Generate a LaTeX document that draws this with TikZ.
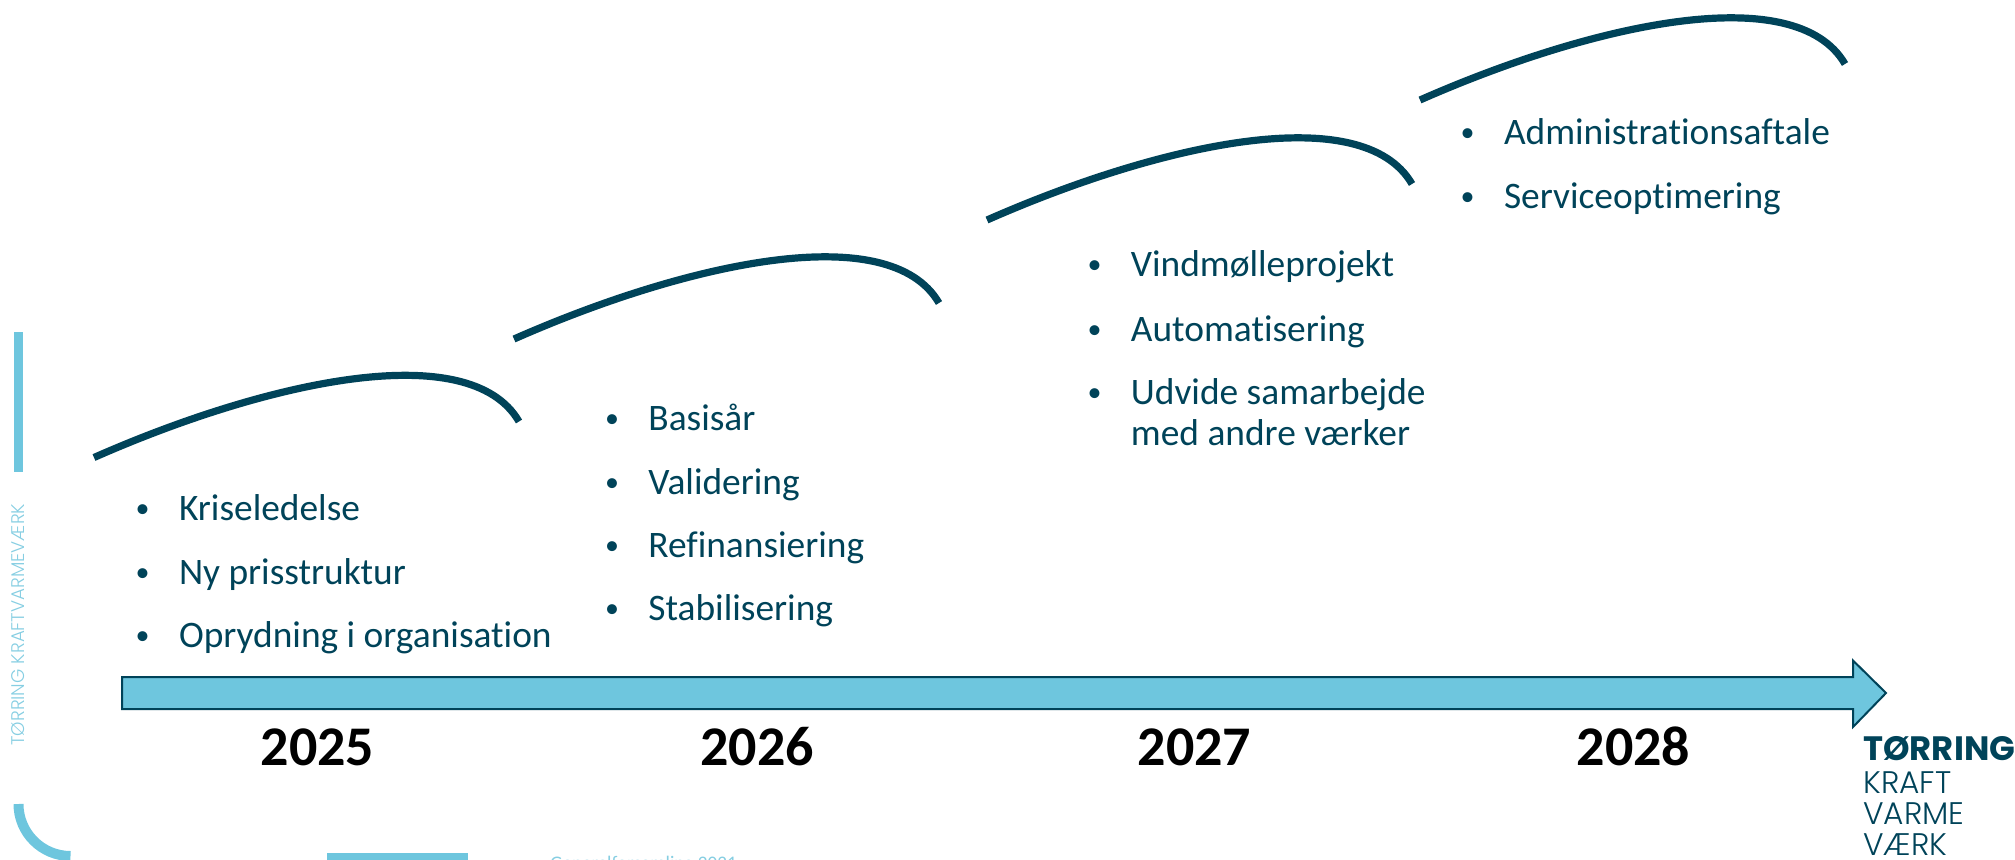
\documentclass[tikz,border=0pt]{standalone}
\usepackage{fontspec}
\setmainfont[Ligatures=NoCommon]{Carlito}
\newfontfamily\logofont{Poppins}
\newfontfamily\logolight{Poppins Light}
\usetikzlibrary{calc}
\definecolor{deep}{HTML}{004359}
\definecolor{sky}{HTML}{6EC6DE}
\definecolor{skytext}{HTML}{86CEE2}
\tikzset{
  x=0.5pt,y=-0.5pt,
  item/.style={anchor=base west,inner sep=0,text=deep,font=\fontsize{18.7}{20.5}\selectfont,align=left},
  dot/.style={anchor=base,inner sep=0,text=deep,font=\fontsize{14}{20}\selectfont},
  year/.style={anchor=base,inner sep=0,text=black,font=\fontsize{28}{30}\selectfont\bfseries},
  arc line/.style={draw=deep,line width=3.6pt},
  logo bold/.style={anchor=base west,inner sep=0,text=deep,font=\logofont\fontsize{16.9}{18}\selectfont\bfseries},
  logo thin/.style={anchor=base west,inner sep=0,text=deep,font=\logolight\fontsize{15.6}{18}\selectfont},
}
\newcommand{\bump}[1]{%
  \draw[arc line] (#1) .. controls ($(#1)+(170,-75)$) and ($(#1)+(375,-122)$) .. ($(#1)+(425,-36)$);}
\newcommand{\entry}[4]{%
  \node[dot] (d#1) at (#2-36,#3-3) {•};
  \node[item] (t#1) at (#2,#3) {#4};}
\begin{document}
\begin{tikzpicture}
\useasboundingbox (0,0) rectangle (2015,859);
\clip (0,0) rectangle (2015,859);
% frame
\fill[sky] (14,332) rectangle (23,472);
\node[rotate=90,anchor=base west,inner sep=0,text=skytext,font=\logolight\fontsize{9.15}{11}\selectfont] (side) at (25,746) {TØRRING KRAFTVARMEVÆRK};
\draw[sky,line width=5pt] (18.5,804) arc[start angle=180,end angle=90,radius=52];
\fill[sky] (327,853) rectangle (468,870);
\node[anchor=base west,inner sep=0,text=skytext,font=\fontsize{9.6}{11}\selectfont] (foot) at (550,869) {Generalforsamling 2021};
% bumps
\coordinate (b1) at (94,457.5);
\coordinate (b2) at (514,339);
\coordinate (b3) at (987,220);
\coordinate (b4) at (1420,100);
\bump{b1}\bump{b2}\bump{b3}\bump{b4}
% arrow
\draw[fill=sky,draw=deep,line width=1pt,line join=miter]
 (122,677) -- (1853,677) -- (1853,660.5) -- (1886,693) -- (1853,727) -- (1853,709) -- (122,709) -- cycle;
% lists
\entry{a}{178.6}{520}{Kriseledelse}
\entry{b}{178.6}{584.5}{Ny prisstruktur}
\entry{c}{178.6}{647.5}{Oprydning i organisation}
\entry{d}{648}{430.5}{Basisår}
\entry{e}{648}{494.5}{Validering}
\entry{f}{648}{557.5}{Refinansiering}
\entry{g}{648}{620.5}{Stabilisering}
\entry{h}{1130.5}{276.5}{Vindmølleprojekt}
\entry{i}{1130.5}{341}{Automatisering}
\node[dot] (dj) at (1094.5,401) {•};
\node[item] (tj) at (1130.5,445) {Udvide samarbejde\\med andre værker};
\entry{k}{1503.6}{144.5}{Administrationsaftale}
\entry{l}{1503.6}{208.5}{Serviceoptimering}
% years
\node[year] (y1) at (317.5,765) {2025};
\node[year] (y2) at (757,765) {2026};
\node[year] (y3) at (1194.5,765) {2027};
\node[year] (y4) at (1633.5,765) {2028};
% logo
\node[logo bold] (l1) at (1863,760) {TØRRING};
\node[logo thin] (l2) at (1863,793) {KRAFT};
\node[logo thin] (l3) at (1863,824) {VARME};
\node[logo thin] (l4) at (1863,855) {VÆRK};
\end{tikzpicture}
\end{document}
